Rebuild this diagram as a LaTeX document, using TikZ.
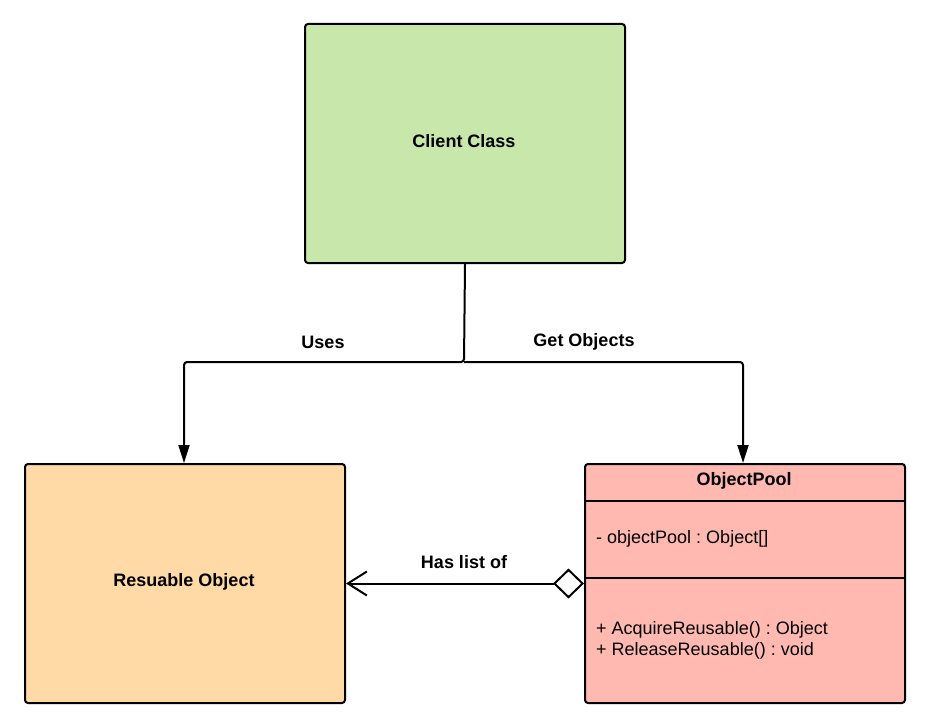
\documentclass[tikz,border=0pt]{standalone}
\usepackage{fontspec}
\setmainfont{Liberation Sans}
\usetikzlibrary{arrows.meta}
\definecolor{cgreen}{RGB}{199,231,171}
\definecolor{corange}{RGB}{255,218,167}
\definecolor{cpink}{RGB}{255,185,177}
\frenchspacing
\tikzset{
  umlbox/.style={draw=black, line width=2pt, rounded corners=3pt, inner sep=0pt, minimum width=320pt, minimum height=239pt, anchor=north west},
  lbl/.style={font=\fontsize{18}{21}\selectfont\bfseries, inner sep=0pt},
  txt/.style={font=\fontsize{18}{21}\selectfont, inner sep=0pt, anchor=west},
  conn/.style={line width=2pt, rounded corners=3pt},
  filledtip/.style={-{Triangle[length=18pt,width=11pt]}},
}
\begin{document}
\begin{tikzpicture}[x=1pt,y=-1pt]
\useasboundingbox (0,0) rectangle (925,725);
% boxes
\node[umlbox, fill=cgreen] (client) at (304,23) {};
\node[umlbox, fill=corange] (res) at (24,463) {};
\node[umlbox, fill=cpink] (pool) at (584,463) {};
% texts
\node[lbl] (clientlbl) at (464,141.5) {Client Class};
\node[lbl] (reslbl) at (184,582) {Resuable Object};
\node[lbl] (poollbl) at (744,481) {ObjectPool};
\draw[line width=2pt] (584,501) coordinate (d1a) -- (904,501) coordinate (d1b);
\draw[line width=2pt] (584,578) coordinate (d2a) -- (904,578) coordinate (d2b);
\node[txt] (attr) at (596,539) {- objectPool : Object[]};
\node[txt] (m1) at (596,630) {+ AcquireReusable() : Object};
\node[txt] (m2) at (596,651) {+ ReleaseReusable() : void};
% connectors
\coordinate (j) at (464,362);
\draw[conn, filledtip] (client.south) -- (j) -| (res.north -| 184,0);
\draw[conn, filledtip] (j) -| (pool.north -| 743,0);
\node[lbl] (uses) at (323,342) {Uses};
\node[lbl] (get) at (584,342) {Get Objects};
\draw[line width=2pt, {Straight Barb[length=19pt,width=24pt]}-{Diamond[open,fill=white,length=31pt,width=30pt]}] (res.east) -- (pool.west);
\node[lbl] (has) at (464,562) {Has list of};
\end{tikzpicture}
\end{document}
